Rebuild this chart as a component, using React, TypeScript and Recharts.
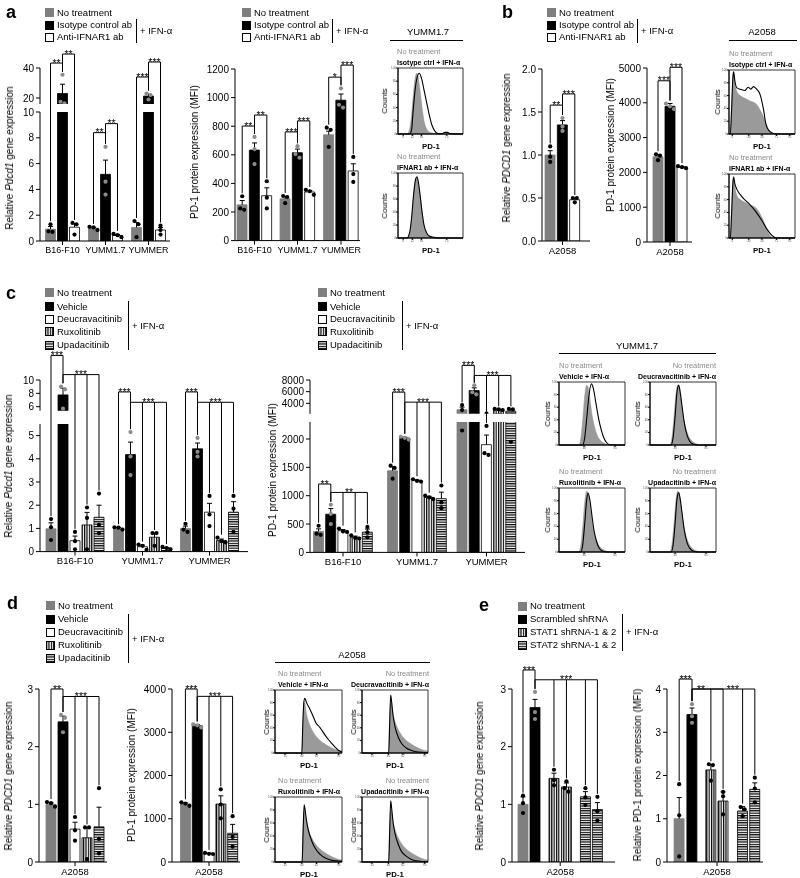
import React from 'react';
import {
  ComposedChart, Bar, Cell, XAxis, YAxis, Scatter, ReferenceLine, ReferenceDot,
  ReferenceArea, Area, Line,
} from 'recharts';

const FONT = '"Liberation Sans", Arial, Helvetica, sans-serif';

// ---------- categories ----------
const mouseLines = ['B16-F10', 'YUMM1.7', 'YUMMER'];
const humanLines = ['A2058'];

// ---------- a: no treatment / isotype ctrl / anti-IFNAR1 ----------
const a1Mean = [[0.92, 23, 1.07], [1.0, 5.17, 0.43], [1.05, 21.3, 0.85]];
const a1Sem = [[0.2, 6.2, 0.29], [0.07, 1.1, 0.07], [0.38, 1.2, 0.2]];
const a1Pts = [
  [[1.3, 0.75, 0.7], [35.5, 17.5, 16.5], [1.4, 1.3, 0.5]],
  [[1.1, 1.05, 0.85], [7.3, 4.6, 3.6], [0.55, 0.45, 0.3]],
  [[1.55, 1.3, 0.3], [23, 22, 19], [1.2, 0.85, 0.5]],
];
const a2Mean = [[250, 633, 314], [293, 615, 340], [740, 982, 487]];
const a2Sem = [[30, 50, 55], [15, 25, 10], [25, 43, 50]];
const a2Pts = [
  [[310, 225, 215], [725, 640, 535], [415, 300, 225]],
  [[312, 305, 262], [660, 605, 580], [355, 345, 320]],
  [[790, 775, 655], [1065, 950, 930], [585, 465, 410]],
];

// ---------- b ----------
const b1Mean = [[1.0, 1.35, 0.48]];
const b1Sem = [[0.05, 0.05, 0.02]];
const b1Pts = [[[1.1, 0.98, 0.92], [1.43, 1.33, 1.28], [0.5, 0.5, 0.45]]];
const b2Mean = [[2450, 3900, 2150]];
const b2Sem = [[60, 80, 20]];
const b2Pts = [[[2520, 2480, 2350], [3980, 3900, 3820], [2180, 2150, 2120]]];

// ---------- c: no treatment / vehicle / deucravacitinib / ruxolitinib / upadacitinib ----------
const c1Mean = [[0.98, 7.77, 0.47, 1.15, 1.48], [1.01, 4.18, 0.21, 0.62, 0.15], [1.0, 4.43, 1.7, 0.48, 1.7]];
const c1Sem = [[0.26, 1.0, 0.2, 0.54, 0.52], [0.03, 0.54, 0.07, 0.18, 0.03], [0.1, 0.25, 0.38, 0.06, 0.45]];
const c1Pts = [
  [[1.4, 1.05, 0.5], [9.0, 8.6, 5.7], [0.85, 0.45, 0.1], [1.9, 1.45, 0.1], [2.5, 1.15, 0.8]],
  [[1.05, 1.03, 0.95], [5.15, 4.1, 3.3], [0.3, 0.25, 0.08], [0.8, 0.8, 0.25], [0.2, 0.15, 0.1]],
  [[1.2, 0.95, 0.85], [4.9, 4.3, 4.1], [2.4, 1.6, 1.1], [0.6, 0.45, 0.4], [2.4, 1.85, 0.85]],
];
const c2Mean = [[370, 673, 383, 267, 357], [1440, 2017, 1267, 970, 947], [2900, 6183, 1900, 2950, 2650]];
const c2Sem = [[45, 100, 20, 20, 55], [70, 15, 12, 18, 115], [450, 470, 170, 60, 350]];
const c2Pts = [
  [[470, 330, 310], [840, 680, 500], [420, 370, 360], [300, 255, 245], [450, 355, 265]],
  [[1530, 1490, 1300], [2040, 2020, 1990], [1290, 1260, 1250], [1000, 970, 940], [1180, 880, 780]],
  [[3700, 2850, 2150], [7100, 5900, 5550], [2230, 1750, 1720], [3050, 2950, 2850], [3050, 2950, 1950]],
];

// ---------- d ----------
const d1Mean = [[1.0, 2.43, 0.57, 0.42, 0.61]];
const d1Sem = [[0.03, 0.1, 0.12, 0.18, 0.34]];
const d1Pts = [[[1.04, 1.02, 0.96], [2.55, 2.5, 2.25], [0.78, 0.55, 0.37], [0.6, 0.6, 0.05], [1.28, 0.4, 0.15]]];
const d2Mean = [[1343, 3150, 195, 1340, 665]];
const d2Sem = [[25, 30, 8, 190, 205]];
const d2Pts = [[[1380, 1350, 1300], [3180, 3160, 3110], [210, 190, 185], [1680, 1330, 1010], [1060, 580, 355]]];

// ---------- e: no treatment / scrambled / STAT1 x2 / STAT2 x2 ----------
const e1Mean = [[1.0, 2.68, 1.45, 1.3, 1.13, 0.91]];
const e1Sem = [[0.13, 0.14, 0.09, 0.07, 0.09, 0.12]];
const e1Pts = [[[1.15, 1.02, 0.85], [2.95, 2.6, 2.48], [1.6, 1.42, 1.33], [1.4, 1.28, 1.22], [1.28, 1.12, 0.99], [1.13, 0.88, 0.72]]];
const e2Mean = [[1.0, 3.41, 2.13, 1.41, 1.18, 1.68]];
const e2Sem = [[0.49, 0.15, 0.12, 0.21, 0.1, 0.15]];
const e2Pts = [[[1.8, 1.08, 0.13], [3.65, 3.37, 3.22], [2.26, 2.24, 1.88], [1.62, 1.52, 1.1], [1.27, 1.22, 1.06], [1.95, 1.7, 1.38]]];

// ---------- significance brackets ----------
type Br = { g: number; from: number; to: number[]; y: number; t: string; at?: number };
const a1Br: Br[] = [
  { g: 0, from: 0, to: [1], y: 43.3, t: '**' }, { g: 0, from: 1, to: [2], y: 49.3, t: '**' },
  { g: 1, from: 0, to: [1], y: 8.4, t: '**' }, { g: 1, from: 1, to: [2], y: 9.1, t: '**' },
  { g: 2, from: 0, to: [1], y: 34, t: '***' }, { g: 2, from: 1, to: [2], y: 44, t: '***' },
];
const a2Br: Br[] = [
  { g: 0, from: 0, to: [1], y: 801, t: '**' }, { g: 0, from: 1, to: [2], y: 878, t: '**' },
  { g: 1, from: 0, to: [1], y: 760, t: '***' }, { g: 1, from: 1, to: [2], y: 837, t: '***' },
  { g: 2, from: 0, to: [1], y: 1143, t: '*' }, { g: 2, from: 1, to: [2], y: 1227, t: '***' },
];
const b1Br: Br[] = [{ g: 0, from: 0, to: [1], y: 1.58, t: '**' }, { g: 0, from: 1, to: [2], y: 1.71, t: '***' }];
const b2Br: Br[] = [{ g: 0, from: 0, to: [1], y: 4633, t: '***' }, { g: 0, from: 1, to: [2], y: 5020, t: '***' }];
const c1Br: Br[] = [
  { g: 0, from: 0, to: [1], y: 13.6, t: '***' }, { g: 0, from: 1, to: [2, 3, 4], y: 10.75, t: '***' },
  { g: 1, from: 0, to: [1], y: 8.15, t: '***' }, { g: 1, from: 1, to: [2, 3, 4], y: 6.6, t: '***' },
  { g: 2, from: 0, to: [1], y: 8.15, t: '***' }, { g: 2, from: 1, to: [2, 3, 4], y: 6.6, t: '***' },
];
const c2Br: Br[] = [
  { g: 0, from: 0, to: [1], y: 1206, t: '**' }, { g: 0, from: 1, to: [2, 3, 4], y: 1058, t: '**' },
  { g: 1, from: 0, to: [1], y: 5990, t: '***' }, { g: 1, from: 1, to: [2, 3, 4], y: 4275, t: '***' },
  { g: 2, from: 0, to: [1], y: 10570, t: '***' }, { g: 2, from: 1, to: [2, 3, 4], y: 8850, t: '***' },
];
const d1Br: Br[] = [{ g: 0, from: 0, to: [1], y: 3.0, t: '**' }, { g: 0, from: 1, to: [2, 3, 4], y: 2.87, t: '***' }];
const d2Br: Br[] = [{ g: 0, from: 0, to: [1], y: 4000, t: '***' }, { g: 0, from: 1, to: [2, 3, 4], y: 3830, t: '***' }];
const e1Br: Br[] = [{ g: 0, from: 0, to: [1], y: 3.33, t: '***' }, { g: 0, from: 1, to: [2, 3, 4, 5], y: 3.16, t: '***' }];
const e2Br: Br[] = [
  { g: 0, from: 0, to: [1], y: 4.23, t: '***' },
  { g: 0, from: 1, to: [2, 3], y: 4.0, t: '**', at: -1.3 },
  { g: 0, from: 1, to: [4, 5], y: 4.0, t: '***', at: 1.3 },
];

// ---------- flow histograms (x, y in % of the box) ----------
const aNoTreat = [[0, 0], [14, 0], [18, 8], [21, 30], [24, 65], [27, 88], [29, 92], [31, 86], [34, 65], [37, 40], [40, 20], [44, 8], [48, 3], [55, 1], [65, 0], [100, 0]];
const aIsotype = [[0, 0], [18, 0], [21, 7], [23, 32], [27, 72], [30, 88], [32.6, 92], [36, 85], [40, 67], [47, 34], [52, 14], [57, 4], [62, 0.5], [68, 0.5], [72, 2.5], [76, 2.5], [80, 0.5], [100, 0]];
const aIfnar = [[0, 0], [14, 0], [18, 9], [21, 32], [24, 67], [27, 90], [29, 94], [31, 88], [34, 66], [37, 40], [40, 20], [44, 8], [48, 3], [55, 1], [65, 0], [100, 0]];
const bNoTreat = [[0, 0], [2, 0], [4, 40], [6, 90], [7, 97], [9, 80], [12, 66], [17, 60], [24, 56], [31, 52], [41, 47], [48, 36], [55, 20], [60, 7], [66, 1], [75, 0], [100, 0]];
const bIsotype = [[0, 0], [2, 0], [4, 40], [6, 90], [7, 97], [9, 82], [12, 72], [17, 70], [24, 68], [29, 73], [33, 70], [37, 74], [42, 70], [47, 62], [52, 40], [56, 15], [60, 6], [65, 2], [72, 0], [100, 0]];
const bIfnar = [[0, 0], [2, 0], [4, 40], [6, 88], [7, 95], [9, 84], [12, 76], [20, 64], [30, 54], [40, 42], [50, 27], [58, 13], [65, 4], [72, 0], [100, 0]];
const cNoTreat = [[0, 0], [30, 0], [33, 10], [36, 40], [39, 78], [42, 95], [44, 92], [47, 72], [50, 48], [54, 28], [58, 15], [63, 7], [70, 2], [78, 0], [100, 0]];
const cVehicle = [[0, 0], [36, 0], [39, 12], [42, 42], [45, 75], [49, 97], [52, 90], [56, 66], [60, 42], [64, 24], [68, 11], [72, 4], [77, 0.5], [100, 0]];
const cDeucra = [[0, 0], [32, 0], [35, 12], [38, 45], [41, 85], [43.5, 95], [46, 82], [49, 58], [52, 35], [56, 16], [60, 6], [65, 1.5], [72, 0], [100, 0]];
const cRuxo = [[0, 0], [33, 0], [36, 12], [39, 45], [42, 82], [44, 92], [47, 80], [50, 56], [53, 34], [57, 16], [61, 6], [66, 1.5], [72, 0], [100, 0]];
const cUpa = [[0, 0], [32, 0], [35, 11], [38, 44], [41, 84], [43.5, 93], [46, 81], [49, 57], [52, 34], [56, 15], [60, 6], [65, 1.5], [72, 0], [100, 0]];
const dNoTreat = [[0, 0], [40, 0], [41.5, 40], [43, 75], [44.5, 80], [46, 68], [50, 50], [55, 37], [60, 28], [67, 20], [75, 14], [85, 8], [95, 4], [100, 3]];
const dVehicle = [[0, 0], [40, 0], [41.5, 45], [43, 80], [44.5, 87], [47, 80], [52, 70], [57, 58], [61, 48], [64, 44], [66, 42], [70, 36], [75, 28], [80, 21], [85, 15], [90, 9], [95, 4], [100, 2]];
const dDeucra = [[0, 0], [40.5, 0], [42, 50], [43.5, 92], [45, 80], [47, 60], [50, 42], [55, 25], [60, 15], [67, 8], [75, 4], [85, 1.5], [100, 0.5]];
const dRuxo = [[0, 0], [40.5, 0], [42, 48], [43.5, 88], [45, 80], [47, 64], [50, 48], [55, 32], [60, 21], [67, 12], [75, 6], [85, 2.5], [100, 1]];
const dUpa = [[0, 0], [40.5, 0], [42, 50], [43.5, 94], [45, 82], [47, 62], [50, 44], [55, 27], [60, 16], [67, 9], [75, 4], [85, 1.5], [100, 0.5]];

// ---------- styles ----------
type Sty = { fill: string; stroke: string; dot: string };
const NT: Sty = { fill: '#7f7f7f', stroke: '#7f7f7f', dot: '#000' };
const BLK: Sty = { fill: '#000', stroke: '#000', dot: '#8c8c8c' };
const WHT: Sty = { fill: '#fff', stroke: '#000', dot: '#000' };
const VST: Sty = { fill: 'url(#vstripe)', stroke: '#000', dot: '#000' };
const HST: Sty = { fill: 'url(#hstripe)', stroke: '#000', dot: '#000' };

type Seg = { min: number; max: number; top: number; bottom: number; ticks: number[] };
type Spec = {
  left: number; right: number; centers: number[]; step: number; offsets?: number[];
  lower: Seg; upper?: Seg; styles: Sty[]; groups: string[];
  mean: number[][]; sem: number[][]; pts: number[][][]; brackets: Br[];
  fmt?: (v: number) => string; xFont?: number;
};

const YW = 40, MT = 6, MR = 6, XH = 24;
// grayscale text antialiasing (no coloured subpixel fringes)
const LAYER: React.CSSProperties = { willChange: 'transform' };

const segPx = (s: Seg, v: number) => s.bottom - ((v - s.min) * (s.bottom - s.top)) / (s.max - s.min);
const toPx = (c: Spec, v: number) => (!c.upper || v <= c.lower.max ? segPx(c.lower, v) : segPx(c.upper, v));
const pxToLower = (c: Spec, px: number) =>
  c.lower.min + ((c.lower.bottom - px) * (c.lower.max - c.lower.min)) / (c.lower.bottom - c.lower.top);

function jitter(px: number[]) {
  const idx = px.map((_, i) => i).sort((a, b) => px[a] - px[b]);
  const out = px.map(() => 0);
  let cl = [idx[0]];
  const flush = () => cl.forEach((k, m) => { out[k] = (m - (cl.length - 1) / 2) * 4; });
  for (let m = 1; m < idx.length; m++) {
    if (px[idx[m]] - px[idx[m - 1]] < 4) cl.push(idx[m]);
    else { flush(); cl = [idx[m]]; }
  }
  flush();
  return out;
}

const tickStyle = (s: number) => ({ fontSize: s, fill: '#000', fontFamily: FONT });

function BarSeg({ c, seg, lower }: { c: Spec; seg: Seg; lower: boolean }) {
  const plotW = c.right - c.left;
  const plotH = seg.bottom - seg.top;
  const n = c.styles.length;
  const offs = c.offsets ?? c.styles.map((_, i) => i - (n - 1) / 2);
  const bx = (g: number, i: number) => c.centers[g] + offs[i] * c.step - c.left;
  const rows: { x: number; v: number; g: number; i: number }[] = [];
  c.mean.forEach((r, g) => r.forEach((v, i) => rows.push({ x: bx(g, i), v, g, i })));
  const shown = lower ? rows : rows.filter((r) => r.v > seg.min);
  const dots: { x: number; v: number; col: string }[] = [];
  c.pts.forEach((grp, g) => grp.forEach((ps, i) => {
    const j = jitter(ps.map((p) => toPx(c, p)));
    ps.forEach((p, k) => {
      const keep = lower ? (!c.upper || p <= seg.max) : p > seg.min;
      if (keep) dots.push({ x: bx(g, i) + j[k], v: p, col: c.styles[i].dot });
    });
  }));
  const errs = rows.filter((r) => lower || r.v + c.sem[r.g][r.i] > seg.min);
  const topOf = (g: number, i: number) => Math.max(c.mean[g][i] + c.sem[g][i], ...c.pts[g][i]);

  const brackets = lower ? c.brackets.flatMap((b, k) => {
    const lv = pxToLower(c, toPx(c, b.y));
    const idx = [b.from, ...b.to];
    const xs = idx.map((i) => bx(b.g, i));
    const x0 = Math.min(...xs), x1 = Math.max(...xs);
    const lx = b.at != null ? c.centers[b.g] + b.at * c.step - c.left : (x0 + x1) / 2;
    const els = [
      <ReferenceLine key={`h${k}`} segment={[{ x: x0, y: lv }, { x: x1, y: lv }]} stroke="#000" strokeWidth={1} ifOverflow="visible" />,
    ];
    idx.forEach((i, m) => {
      const yb = pxToLower(c, toPx(c, topOf(b.g, i)) - 3);
      els.push(<ReferenceLine key={`v${k}-${m}`} segment={[{ x: xs[m], y: lv }, { x: xs[m], y: yb }]} stroke="#000" strokeWidth={1} ifOverflow="visible" />);
    });
    els.push(
      <ReferenceDot key={`t${k}`} x={lx} y={lv} r={0} ifOverflow="visible"
        shape={(p: any) => (
          <text x={p.cx} y={p.cy + 3.6} textAnchor="middle" fontSize={10.5} fontFamily={FONT}
            style={{ fill: '#000', stroke: 'none' }} opacity={0.99}>{b.t}</text>
        )} />,
    );
    return els;
  }) : [];

  return (
    <div style={{ position: 'absolute', left: c.left - YW, top: seg.top - MT, ...LAYER }}>
      <ComposedChart width={YW + plotW + MR} height={MT + plotH + (lower ? XH : 0)} data={shown}
        margin={{ top: MT, right: MR, bottom: 0, left: 0 }}>
        <XAxis type="number" dataKey="x" domain={[0, plotW]} allowDataOverflow hide={!lower}
          ticks={c.centers.map((x) => x - c.left)} interval={0} height={XH}
          tickFormatter={(v: number) => c.groups[c.centers.findIndex((x) => Math.abs(x - c.left - v) < 0.5)] ?? ''}
          tick={tickStyle(c.xFont ?? 9.5)} tickSize={4} tickMargin={2} stroke="#000" />
        <XAxis xAxisId="d" type="number" dataKey="x" domain={[0, plotW]} allowDataOverflow hide />
        <YAxis type="number" domain={[seg.min, seg.max]} ticks={seg.ticks} interval={0} allowDataOverflow
          width={YW} tickSize={4} tickMargin={2} stroke="#000" tick={tickStyle(10)}
          tickFormatter={c.fmt ?? ((v: number) => String(v))} />
        <Bar dataKey="v" barSize={10} isAnimationActive={false}>
          {shown.map((r, k) => (
            <Cell key={k} fill={c.styles[r.i].fill} stroke={c.styles[r.i].stroke} strokeWidth={0.8} />
          ))}
        </Bar>
        {errs.flatMap((r, k) => {
          const top = r.v + c.sem[r.g][r.i];
          return [
            <ReferenceLine key={`e${k}`} segment={[{ x: r.x, y: r.v }, { x: r.x, y: top }]} stroke="#000" strokeWidth={1} ifOverflow="hidden" />,
            <ReferenceLine key={`ec${k}`} segment={[{ x: r.x - 2.5, y: top }, { x: r.x + 2.5, y: top }]} stroke="#000" strokeWidth={1} ifOverflow="hidden" />,
          ];
        })}
        <Scatter xAxisId="d" data={dots} dataKey="v" isAnimationActive={false}
          shape={(p: any) => <circle cx={p.cx} cy={p.cy} r={2.1} fill={p.payload.col} />} />
        {brackets}
      </ComposedChart>
    </div>
  );
}

function BarPanel({ c }: { c: Spec }) {
  return (
    <>
      {c.upper && <BarSeg c={c} seg={c.upper} lower={false} />}
      <BarSeg c={c} seg={c.lower} lower />
    </>
  );
}

// ---------- chart layouts ----------
const a1Spec: Spec = {
  left: 40, right: 170, centers: [62.5, 105.5, 148.5], step: 12,
  lower: { min: 0, max: 10, top: 112, bottom: 241, ticks: [0, 2, 4, 6, 8, 10] },
  upper: { min: 16, max: 40, top: 68, bottom: 104, ticks: [20, 40] },
  styles: [NT, BLK, WHT], groups: mouseLines, mean: a1Mean, sem: a1Sem, pts: a1Pts, brackets: a1Br, xFont: 9,
};
const a2Spec: Spec = {
  left: 235, right: 360, centers: [254.5, 297.5, 341], step: 12.3,
  lower: { min: 0, max: 1200, top: 69.4, bottom: 241, ticks: [0, 200, 400, 600, 800, 1000, 1200] },
  styles: [NT, BLK, WHT], groups: mouseLines, mean: a2Mean, sem: a2Sem, pts: a2Pts, brackets: a2Br, xFont: 9,
};
const b1Spec: Spec = {
  left: 542, right: 590, centers: [562.5], step: 12.3,
  lower: { min: 0, max: 2, top: 69, bottom: 241, ticks: [0, 0.5, 1, 1.5, 2] },
  styles: [NT, BLK, WHT], groups: humanLines, mean: b1Mean, sem: b1Sem, pts: b1Pts, brackets: b1Br,
  fmt: (v) => v.toFixed(1),
};
const b2Spec: Spec = {
  left: 647, right: 692, centers: [670], step: 12,
  lower: { min: 0, max: 5000, top: 68, bottom: 242, ticks: [0, 1000, 2000, 3000, 4000, 5000] },
  styles: [NT, BLK, WHT], groups: humanLines, mean: b2Mean, sem: b2Sem, pts: b2Pts, brackets: b2Br,
};
const c1Spec: Spec = {
  left: 40, right: 248, centers: [75, 142.5, 209.5], step: 12,
  lower: { min: 0, max: 5.5, top: 424.4, bottom: 552, ticks: [0, 1, 2, 3, 4, 5] },
  upper: { min: 5.4, max: 10, top: 380, bottom: 410.7, ticks: [6, 8, 10] },
  styles: [NT, BLK, WHT, VST, HST], groups: mouseLines, mean: c1Mean, sem: c1Sem, pts: c1Pts, brackets: c1Br,
};
const c2Spec: Spec = {
  left: 310, right: 525, centers: [343, 417, 486.5], step: 12.2,
  lower: { min: 0, max: 2300, top: 421.6, bottom: 552, ticks: [0, 500, 1000, 1500, 2000] },
  upper: { min: 2200, max: 8000, top: 380, bottom: 413.85, ticks: [4000, 6000, 8000] },
  styles: [NT, BLK, WHT, VST, HST], groups: mouseLines, mean: c2Mean, sem: c2Sem, pts: c2Pts, brackets: c2Br,
};
const d1Spec: Spec = {
  left: 39, right: 107, centers: [75], step: 12,
  lower: { min: 0, max: 3, top: 689, bottom: 862, ticks: [0, 1, 2, 3] },
  styles: [NT, BLK, WHT, VST, HST], groups: humanLines, mean: d1Mean, sem: d1Sem, pts: d1Pts, brackets: d1Br,
};
const d2Spec: Spec = {
  left: 172, right: 240, centers: [209], step: 11.8,
  lower: { min: 0, max: 4000, top: 689, bottom: 862, ticks: [0, 1000, 2000, 3000, 4000] },
  styles: [NT, BLK, WHT, VST, HST], groups: humanLines, mean: d2Mean, sem: d2Sem, pts: d2Pts, brackets: d2Br,
};
const e1Spec: Spec = {
  left: 512, right: 615, centers: [560.2], step: 12, offsets: [-3.1, -2.1, -0.52, 0.52, 2.1, 3.1],
  lower: { min: 0, max: 3, top: 689, bottom: 862, ticks: [0, 1, 2, 3] },
  styles: [NT, BLK, VST, VST, HST, HST], groups: humanLines, mean: e1Mean, sem: e1Sem, pts: e1Pts, brackets: e1Br,
};
const e2Spec: Spec = {
  left: 667, right: 763, centers: [717], step: 12.2, offsets: [-3.1, -2.05, -0.5, 0.5, 2.1, 3.1],
  lower: { min: 0, max: 4, top: 689, bottom: 862, ticks: [0, 1, 2, 3, 4] },
  styles: [NT, BLK, VST, VST, HST, HST], groups: humanLines, mean: e2Mean, sem: e2Sem, pts: e2Pts, brackets: e2Br,
};

// ---------- text helpers ----------
const T = ({ x, y, s = 9.5, a = 'start', b = false, c = '#000', r = false, children }: any) => {
  const tx = r ? '-50%' : a === 'start' ? '0' : a === 'middle' ? '-50%' : '-100%';
  return (
    <div style={{
      position: 'absolute', left: x, top: y, transform: `translate(${tx}, -50%)${r ? ' rotate(-90deg)' : ''}`,
      fontSize: s, fontWeight: b ? 700 : 400, color: c, whiteSpace: 'nowrap', lineHeight: 1, fontFamily: FONT, ...LAYER,
    }}>{children}</div>
  );
};

const Swatch = ({ x, y, st }: { x: number; y: number; st: Sty }) => (
  <svg width={9} height={9} style={{ position: 'absolute', left: x, top: y - 4.5 }}>
    <rect x={0.5} y={0.5} width={8} height={8} fill={st.fill} stroke={st.stroke} strokeWidth={1} />
  </svg>
);

function Legend({ x, rows, items, bar, ifnY }: { x: number; rows: number[]; items: [Sty, string][]; bar: [number, number, number]; ifnY: number }) {
  return (
    <>
      {items.map(([st, label], k) => (
        <React.Fragment key={k}>
          <Swatch x={x} y={rows[k]} st={st} />
          <T x={x + 12} y={rows[k]}>{label}</T>
        </React.Fragment>
      ))}
      <div style={{ position: 'absolute', left: bar[0], top: bar[1], width: 1, height: bar[2] - bar[1], background: '#000' }} />
      <T x={bar[0] + 4} y={ifnY}>+ IFN-α</T>
    </>
  );
}

// ---------- histograms ----------
type H = {
  left: number; top: number; w: number; h: number; grey: number[][]; black: number[][];
  t2: string; tx: number; ta: string; cx: number; xt: number[];
};
const HW = 7, HX = 6;
function Histo({ d }: { d: H }) {
  const fill = d.grey.map(([x, y]) => ({ x, y }));
  const line = d.black.map(([x, y]) => ({ x, y }));
  return (
    <>
      <div style={{ position: 'absolute', left: d.left - HW, top: d.top - 1, ...LAYER }}>
        <ComposedChart width={HW + d.w + 1} height={d.h + 1 + HX} margin={{ top: 1, right: 1, bottom: 0, left: 0 }}>
          <XAxis type="number" dataKey="x" domain={[0, 100]} ticks={d.xt} interval={0} tickSize={2} height={HX}
            stroke="#000" tick={{ fontSize: 3, fill: '#555' }} tickMargin={0} />
          <YAxis type="number" domain={[0, 100]} ticks={[0, 20, 40, 60, 80, 100]} interval={0} tickSize={2}
            width={HW} stroke="#000" tick={{ fontSize: 3, fill: '#555' }} tickMargin={0} />
          <Area data={fill} dataKey="y" type="monotone" fill="#9a9a9a" fillOpacity={1} stroke="#8f8f8f"
            strokeWidth={0.5} isAnimationActive={false} />
          <Line data={line} dataKey="y" type="monotone" stroke="#000" strokeWidth={1.1} dot={false} isAnimationActive={false} />
          <ReferenceArea x1={0} x2={100} y1={0} y2={100} fill="none" fillOpacity={0} stroke="#000" strokeWidth={0.8} ifOverflow="visible" />
        </ComposedChart>
      </div>
      <T x={d.tx} y={d.top - 16} s={7.5} c="#8a8a8a" a={d.ta}>No treatment</T>
      <T x={d.tx} y={d.top - 6.5} s={7} b a={d.ta}>{d.t2}</T>
      <T x={d.cx} y={d.top + d.h / 2} s={8} r>Counts</T>
      <T x={d.left + d.w / 2} y={d.top + d.h + 12.5} s={7.8} b a="middle">PD-1</T>
    </>
  );
}

const hists: H[] = [
  { left: 398, top: 68, w: 65, h: 66, grey: aNoTreat, black: aIsotype, t2: 'Isotype ctrl + IFN-α', tx: 397, ta: 'start', cx: 385, xt: [8, 22, 36, 75] },
  { left: 398, top: 173, w: 65, h: 65, grey: aNoTreat, black: aIfnar, t2: 'IFNAR1 ab + IFN-α', tx: 397, ta: 'start', cx: 385, xt: [8, 22, 36, 75] },
  { left: 729, top: 70, w: 66, h: 64, grey: bNoTreat, black: bIsotype, t2: 'Isotype ctrl + IFN-α', tx: 729, ta: 'start', cx: 718, xt: [5, 30, 50, 72, 92] },
  { left: 729, top: 174, w: 66, h: 64, grey: bNoTreat, black: bIfnar, t2: 'IFNAR1 ab + IFN-α', tx: 729, ta: 'start', cx: 718, xt: [5, 30, 50, 72, 92] },
  { left: 559, top: 382, w: 66, h: 63, grey: cNoTreat, black: cVehicle, t2: 'Vehicle + IFN-α', tx: 559, ta: 'start', cx: 548, xt: [38, 85] },
  { left: 650, top: 382, w: 66, h: 63, grey: cNoTreat, black: cDeucra, t2: 'Deucravacitinib + IFN-α', tx: 716, ta: 'end', cx: 638, xt: [38, 85] },
  { left: 559, top: 488, w: 66, h: 64, grey: cNoTreat, black: cRuxo, t2: 'Ruxolitinib + IFN-α', tx: 559, ta: 'start', cx: 548, xt: [38, 85] },
  { left: 650, top: 488, w: 66, h: 64, grey: cNoTreat, black: cUpa, t2: 'Upadacitinib + IFN-α', tx: 716, ta: 'end', cx: 638, xt: [38, 85] },
  { left: 275, top: 690, w: 67, h: 63, grey: dNoTreat, black: dVehicle, t2: 'Vehicle + IFN-α', tx: 278, ta: 'start', cx: 267, xt: [15, 40, 62, 95] },
  { left: 362, top: 690, w: 66, h: 63, grey: dNoTreat, black: dDeucra, t2: 'Deucravacitinib + IFN-α', tx: 429, ta: 'end', cx: 354, xt: [15, 40, 62, 95] },
  { left: 275, top: 797, w: 67, h: 65, grey: dNoTreat, black: dRuxo, t2: 'Ruxolitinib + IFN-α', tx: 278, ta: 'start', cx: 267, xt: [15, 40, 62, 95] },
  { left: 362, top: 797, w: 66, h: 65, grey: dNoTreat, black: dUpa, t2: 'Upadacitinib + IFN-α', tx: 429, ta: 'end', cx: 354, xt: [15, 40, 62, 95] },
];

const jakItems: [Sty, string][] = [[NT, 'No treatment'], [BLK, 'Vehicle'], [WHT, 'Deucravacitinib'], [VST, 'Ruxolitinib'], [HST, 'Upadacitinib']];
const abItems: [Sty, string][] = [[NT, 'No treatment'], [BLK, 'Isotype control ab'], [WHT, 'Anti-IFNAR1 ab']];
const shItems: [Sty, string][] = [[NT, 'No treatment'], [BLK, 'Scrambled shRNA'], [VST, 'STAT1 shRNA-1 & 2'], [HST, 'STAT2 shRNA-1 & 2']];

const Rule = ({ x1, x2, y }: { x1: number; x2: number; y: number }) => (
  <div style={{ position: 'absolute', left: x1, top: y, width: x2 - x1, height: 1, background: '#000' }} />
);

const Pdcd1 = <>Relative <i>Pdcd1</i> gene expression</>;
const PDCD1 = <>Relative <i>PDCD1</i> gene expression</>;
const MFI = 'PD-1 protein expression (MFI)';

export default function App() {
  return (
    <div style={{ position: 'absolute', left: 0, top: 0, width: 800, height: 878, background: '#fff', fontFamily: FONT, overflow: 'hidden' }}>
      <style>{'.recharts-surface{overflow:visible}.recharts-wrapper{overflow:visible}'}</style>
      <svg width={0} height={0} style={{ position: 'absolute' }}>
        <defs>
          <pattern id="vstripe" width={2.4} height={4} patternUnits="userSpaceOnUse">
            <rect width={2.4} height={4} fill="#fff" />
            <rect width={1.2} height={4} fill="#000" />
          </pattern>
          <pattern id="hstripe" width={4} height={2.4} patternUnits="userSpaceOnUse">
            <rect width={4} height={2.4} fill="#fff" />
            <rect width={4} height={1.2} fill="#000" />
          </pattern>
        </defs>
      </svg>

      {/* panel letters */}
      <T x={6} y={12} s={18} b>a</T>
      <T x={502} y={12} s={18} b>b</T>
      <T x={6} y={293} s={18} b>c</T>
      <T x={7} y={603} s={18} b>d</T>
      <T x={479} y={605} s={18} b>e</T>

      {/* legends */}
      <Legend x={45} rows={[12.7, 25, 37.3]} items={abItems} bar={[136, 19, 43]} ifnY={31} />
      <Legend x={242} rows={[12.7, 25, 37.3]} items={abItems} bar={[332, 19, 43]} ifnY={31} />
      <Legend x={547} rows={[12.7, 25, 37.3]} items={abItems} bar={[637, 19, 43]} ifnY={31} />
      <Legend x={45} rows={[292.7, 306.7, 319.3, 331.7, 345]} items={jakItems} bar={[128, 301, 350]} ifnY={326} />
      <Legend x={318} rows={[292.7, 306.7, 319.3, 331.7, 345]} items={jakItems} bar={[402, 301, 350]} ifnY={326} />
      <Legend x={46} rows={[605.7, 619, 632.3, 645, 658.3]} items={jakItems} bar={[128, 614, 663]} ifnY={639} />
      <Legend x={518} rows={[606, 619.3, 632.3, 645.3]} items={shItems} bar={[622, 614, 651]} ifnY={632.3} />

      {/* y-axis titles */}
      <T x={10} y={158} s={10} r>{Pdcd1}</T>
      <T x={195} y={152} s={10} r>{MFI}</T>
      <T x={507} y={148} s={10} r>{PDCD1}</T>
      <T x={611} y={145} s={10} r>{MFI}</T>
      <T x={9} y={466} s={10} r>{Pdcd1}</T>
      <T x={273} y={470} s={10} r>{MFI}</T>
      <T x={9} y={776} s={10} r>{PDCD1}</T>
      <T x={132} y={775} s={10} r>{MFI}</T>
      <T x={480} y={776} s={10} r>{PDCD1}</T>
      <T x={638} y={775} s={10} r>Relative PD-1 protein expression (MFI)</T>

      {/* flow panels headers */}
      <T x={428} y={32} s={9.5} a="middle">YUMM1.7</T>
      <Rule x1={390} x2={463} y={40} />
      <T x={762} y={32} s={9.5} a="middle">A2058</T>
      <Rule x1={729} x2={797} y={40} />
      <T x={637} y={346} s={9.5} a="middle">YUMM1.7</T>
      <Rule x1={559} x2={716} y={353} />
      <T x={352} y={655} s={9.5} a="middle">A2058</T>
      <Rule x1={275} x2={430} y={662} />

      {hists.map((h, k) => <Histo key={k} d={h} />)}

      <BarPanel c={a1Spec} />
      <BarPanel c={a2Spec} />
      <BarPanel c={b1Spec} />
      <BarPanel c={b2Spec} />
      <BarPanel c={c1Spec} />
      <BarPanel c={c2Spec} />
      <BarPanel c={d1Spec} />
      <BarPanel c={d2Spec} />
      <BarPanel c={e1Spec} />
      <BarPanel c={e2Spec} />
    </div>
  );
}
